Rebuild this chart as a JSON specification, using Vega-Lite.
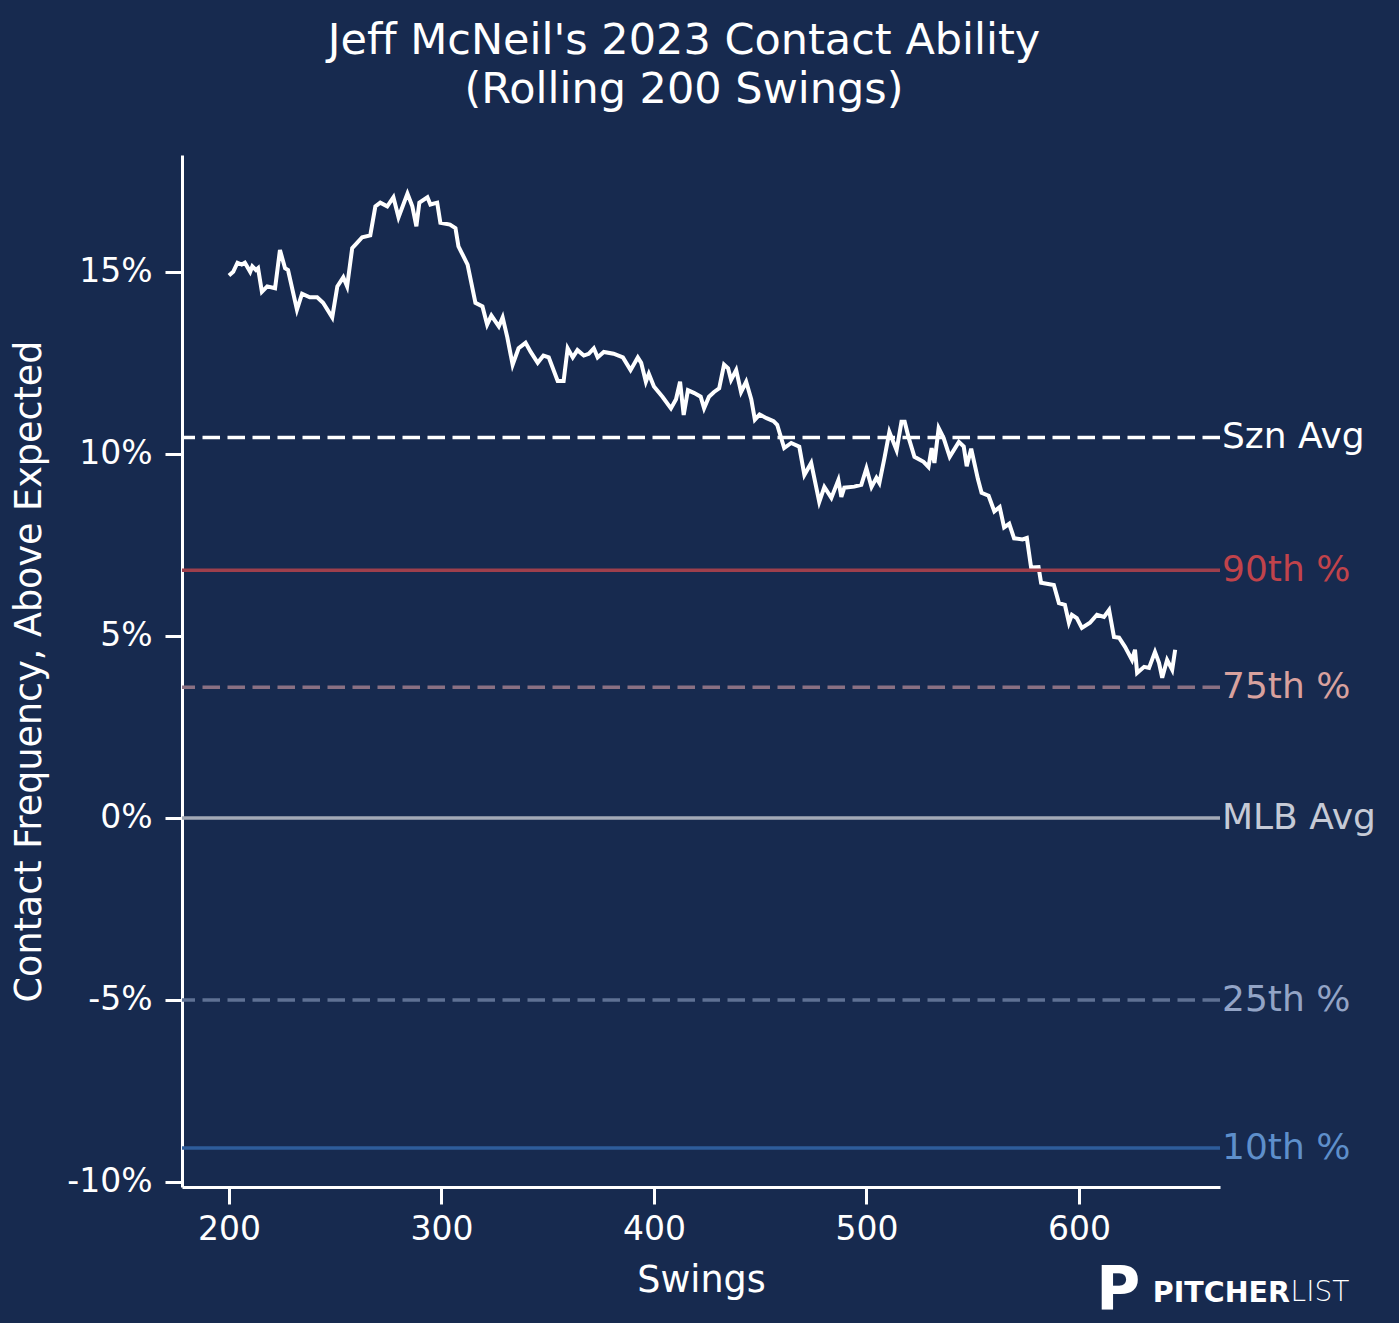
{
  "$schema": "https://vega.github.io/schema/vega-lite/v6.json",
  "description": "Jeff McNeil rolling 200-swing contact ability, 2023",
  "width": 1038,
  "height": 1032,
  "autosize": "none",
  "padding": {"left": 182, "top": 155, "right": 179, "bottom": 136},
  "background": "#172a4f",
  "config": {
    "view": {"stroke": null},
    "font": "DejaVu Sans"
  },
  "title": {
    "text": ["Jeff McNeil's 2023 Contact Ability", "(Rolling 200 Swings)"],
    "font": "DejaVu Sans",
    "fontSize": 43,
    "fontWeight": "normal",
    "color": "#ffffff",
    "lineHeight": 49,
    "anchor": "middle",
    "dx": -17,
    "offset": 43
  },
  "datasets": {
    "rolling": [
      {"s": 200, "v": 14.9}, {"s": 202, "v": 15.0}, {"s": 204, "v": 15.25}, {"s": 206, "v": 15.2},
      {"s": 207.5, "v": 15.25}, {"s": 210, "v": 15.0}, {"s": 211, "v": 15.15}, {"s": 212.7, "v": 15.05},
      {"s": 213.7, "v": 15.1}, {"s": 215.5, "v": 14.45}, {"s": 218, "v": 14.6}, {"s": 221.7, "v": 14.55},
      {"s": 224, "v": 15.6}, {"s": 226.4, "v": 15.1}, {"s": 227.8, "v": 15.05}, {"s": 232, "v": 13.96},
      {"s": 234.4, "v": 14.4}, {"s": 238, "v": 14.3}, {"s": 241.5, "v": 14.3}, {"s": 244.3, "v": 14.15},
      {"s": 248.6, "v": 13.75}, {"s": 251, "v": 14.6}, {"s": 253.8, "v": 14.85}, {"s": 255.6, "v": 14.6},
      {"s": 258, "v": 15.65}, {"s": 260.4, "v": 15.8}, {"s": 262.7, "v": 15.95}, {"s": 266.5, "v": 16.0},
      {"s": 268.9, "v": 16.8}, {"s": 271.2, "v": 16.9}, {"s": 274.5, "v": 16.8}, {"s": 277.4, "v": 17.05},
      {"s": 279.8, "v": 16.5}, {"s": 284, "v": 17.15}, {"s": 286.3, "v": 16.8}, {"s": 288.2, "v": 16.25},
      {"s": 289.6, "v": 16.9}, {"s": 293.4, "v": 17.05}, {"s": 294.8, "v": 16.85}, {"s": 298, "v": 16.9},
      {"s": 299.5, "v": 16.35}, {"s": 304, "v": 16.3}, {"s": 306.6, "v": 16.2}, {"s": 308, "v": 15.7},
      {"s": 312.3, "v": 15.2}, {"s": 316, "v": 14.15}, {"s": 319.3, "v": 14.05}, {"s": 321.5, "v": 13.55},
      {"s": 323.5, "v": 13.8}, {"s": 327, "v": 13.5}, {"s": 328.8, "v": 13.75}, {"s": 331, "v": 13.2},
      {"s": 333.5, "v": 12.45}, {"s": 336.3, "v": 12.9}, {"s": 339.6, "v": 13.05}, {"s": 342, "v": 12.8},
      {"s": 345.3, "v": 12.5}, {"s": 348, "v": 12.7}, {"s": 350.5, "v": 12.65}, {"s": 354.7, "v": 12.0},
      {"s": 357.5, "v": 12.0}, {"s": 359.4, "v": 12.9}, {"s": 361.8, "v": 12.65}, {"s": 364, "v": 12.85},
      {"s": 367, "v": 12.7}, {"s": 369.3, "v": 12.75}, {"s": 371.7, "v": 12.9}, {"s": 373.5, "v": 12.65},
      {"s": 376.4, "v": 12.8}, {"s": 381, "v": 12.75}, {"s": 385.4, "v": 12.65}, {"s": 389, "v": 12.3},
      {"s": 392.4, "v": 12.65}, {"s": 394, "v": 12.5}, {"s": 396.2, "v": 11.98}, {"s": 397.6, "v": 12.2},
      {"s": 400, "v": 11.85}, {"s": 404, "v": 11.57}, {"s": 408, "v": 11.25}, {"s": 410.4, "v": 11.5},
      {"s": 412.3, "v": 11.98}, {"s": 414, "v": 11.07}, {"s": 416, "v": 11.75}, {"s": 419, "v": 11.67},
      {"s": 422, "v": 11.57}, {"s": 423.6, "v": 11.25}, {"s": 425.9, "v": 11.57}, {"s": 428.3, "v": 11.7},
      {"s": 430.7, "v": 11.8}, {"s": 433, "v": 12.45}, {"s": 434.9, "v": 12.35}, {"s": 436.3, "v": 12.03},
      {"s": 438.7, "v": 12.3}, {"s": 441, "v": 11.7}, {"s": 443.4, "v": 11.98}, {"s": 445.8, "v": 11.5},
      {"s": 447.5, "v": 10.94}, {"s": 449.7, "v": 11.08}, {"s": 453, "v": 10.98}, {"s": 456.3, "v": 10.9},
      {"s": 458, "v": 10.8}, {"s": 461.3, "v": 10.16}, {"s": 464.6, "v": 10.3}, {"s": 468.4, "v": 10.2},
      {"s": 470.8, "v": 9.42}, {"s": 474, "v": 9.75}, {"s": 477.8, "v": 8.68}, {"s": 480.2, "v": 9.09},
      {"s": 483.5, "v": 8.79}, {"s": 486.8, "v": 9.28}, {"s": 488.2, "v": 8.82}, {"s": 489.6, "v": 9.07},
      {"s": 494.3, "v": 9.1}, {"s": 497.6, "v": 9.15}, {"s": 500, "v": 9.6}, {"s": 502.4, "v": 9.09},
      {"s": 504.7, "v": 9.34}, {"s": 506.1, "v": 9.2}, {"s": 508.5, "v": 9.89}, {"s": 510.8, "v": 10.6},
      {"s": 514.2, "v": 10.1}, {"s": 516.5, "v": 10.88}, {"s": 518, "v": 10.88}, {"s": 519.9, "v": 10.44},
      {"s": 522.6, "v": 9.92}, {"s": 526.9, "v": 9.78}, {"s": 529.2, "v": 9.64}, {"s": 530.7, "v": 10.16},
      {"s": 532, "v": 9.75}, {"s": 534, "v": 10.71}, {"s": 536.3, "v": 10.44}, {"s": 539.2, "v": 9.92},
      {"s": 543.5, "v": 10.33}, {"s": 545.8, "v": 10.2}, {"s": 547.2, "v": 9.66}, {"s": 549.3, "v": 10.14},
      {"s": 552.5, "v": 9.3}, {"s": 554.2, "v": 8.93}, {"s": 557.5, "v": 8.85}, {"s": 560.2, "v": 8.42},
      {"s": 562.7, "v": 8.54}, {"s": 564.8, "v": 7.98}, {"s": 567.2, "v": 8.08}, {"s": 569.5, "v": 7.68},
      {"s": 573.5, "v": 7.65}, {"s": 575.5, "v": 7.69}, {"s": 577.5, "v": 6.88}, {"s": 581, "v": 6.89},
      {"s": 582.2, "v": 6.46}, {"s": 588.2, "v": 6.4}, {"s": 590.6, "v": 5.9}, {"s": 593.4, "v": 5.85},
      {"s": 595.3, "v": 5.36}, {"s": 596.7, "v": 5.58}, {"s": 599, "v": 5.49}, {"s": 601.4, "v": 5.22},
      {"s": 605.2, "v": 5.36}, {"s": 608.5, "v": 5.58}, {"s": 611.8, "v": 5.52}, {"s": 614.2, "v": 5.71},
      {"s": 616.5, "v": 4.97}, {"s": 618.9, "v": 4.95}, {"s": 621.7, "v": 4.7}, {"s": 625, "v": 4.34},
      {"s": 626.4, "v": 4.62}, {"s": 627.4, "v": 3.98}, {"s": 630.7, "v": 4.15}, {"s": 633, "v": 4.12},
      {"s": 635.8, "v": 4.56}, {"s": 637.7, "v": 4.26}, {"s": 639.2, "v": 3.85}, {"s": 641.5, "v": 4.34},
      {"s": 643.9, "v": 4.07}, {"s": 645.3, "v": 4.62}
    ],
    "refs": [
      {"name": "Szn Avg", "value": 10.45},
      {"name": "90th %", "value": 6.8},
      {"name": "75th %", "value": 3.59},
      {"name": "MLB Avg", "value": 0},
      {"name": "25th %", "value": -5.0},
      {"name": "10th %", "value": -9.07}
    ]
  },
  "layer": [
    {
      "data": {"name": "rolling"},
      "mark": {"type": "line", "color": "#ffffff", "strokeWidth": 4, "strokeJoin": "miter"},
      "encoding": {
        "x": {
          "field": "s",
          "type": "quantitative",
          "title": "Swings",
          "scale": {"domain": [177.9, 666.4], "nice": false, "zero": false},
          "axis": {
            "values": [200, 300, 400, 500, 600],
            "grid": false,
            "domainColor": "#ffffff",
            "domainWidth": 3,
            "tickColor": "#ffffff",
            "tickWidth": 3,
            "tickSize": 17,
            "labelColor": "#ffffff",
            "labelFont": "DejaVu Sans",
            "labelFontSize": 33,
            "labelPadding": 9,
            "titleColor": "#ffffff",
            "titleFont": "DejaVu Sans",
            "titleFontSize": 36.5,
            "titleFontWeight": "normal",
            "titlePadding": 16
          }
        },
        "y": {
          "field": "v",
          "type": "quantitative",
          "title": "Contact Frequency, Above Expected",
          "scale": {"domain": [-10.14, 18.21], "nice": false, "zero": false},
          "axis": {
            "values": [-10, -5, 0, 5, 10, 15],
            "labelExpr": "datum.value + '%'",
            "grid": false,
            "domainColor": "#ffffff",
            "domainWidth": 3,
            "tickColor": "#ffffff",
            "tickWidth": 3,
            "tickSize": 17,
            "labelColor": "#ffffff",
            "labelFont": "DejaVu Sans",
            "labelFontSize": 33,
            "labelPadding": 13,
            "titleColor": "#ffffff",
            "titleFont": "DejaVu Sans",
            "titleFontSize": 36.5,
            "titleFontWeight": "normal",
            "titlePadding": 18
          }
        }
      }
    },
    {
      "data": {"name": "refs"},
      "mark": {"type": "rule", "strokeWidth": 3.5},
      "encoding": {
        "y": {"field": "value", "type": "quantitative"},
        "color": {
          "field": "name",
          "type": "nominal",
          "legend": null,
          "scale": {
            "domain": ["Szn Avg", "90th %", "75th %", "MLB Avg", "25th %", "10th %"],
            "range": ["#ffffff", "#9e3f4c", "#8a7083", "#a3a9b6", "#5f7194", "#2e5c9a"]
          }
        },
        "strokeDash": {
          "field": "name",
          "type": "nominal",
          "legend": null,
          "scale": {
            "domain": ["Szn Avg", "90th %", "75th %", "MLB Avg", "25th %", "10th %"],
            "range": [[17.5, 7.5], [1, 0], [17.5, 7.5], [1, 0], [17.5, 7.5], [1, 0]]
          }
        }
      }
    },
    {
      "data": {"name": "refs"},
      "mark": {"type": "text", "align": "left", "baseline": "middle", "dx": 2, "fontSize": 36, "font": "DejaVu Sans"},
      "encoding": {
        "x": {"datum": 666.4, "type": "quantitative"},
        "y": {"field": "value", "type": "quantitative"},
        "text": {"field": "name"},
        "color": {
          "field": "name",
          "type": "nominal",
          "legend": null,
          "scale": {
            "domain": ["Szn Avg", "90th %", "75th %", "MLB Avg", "25th %", "10th %"],
            "range": ["#ffffff", "#c1434b", "#d8a19e", "#c6cad6", "#93a4c6", "#5e8fcb"]
          }
        }
      }
    },
    {
      "data": {"values": [{"brand": "P"}]},
      "mark": {"type": "text", "align": "center", "baseline": "middle", "fontSize": 60, "fontWeight": "bold", "font": "DejaVu Sans", "color": "#ffffff"},
      "encoding": {
        "x": {"datum": 618.5, "type": "quantitative"},
        "y": {"datum": -13.0, "type": "quantitative"},
        "text": {"field": "brand"}
      }
    },
    {
      "data": {"values": [{"brand": "PITCHER"}]},
      "mark": {"type": "text", "align": "left", "baseline": "middle", "fontSize": 28.5, "fontWeight": "bold", "font": "DejaVu Sans", "color": "#ffffff"},
      "encoding": {
        "x": {"datum": 634.8, "type": "quantitative"},
        "y": {"datum": -13.05, "type": "quantitative"},
        "text": {"field": "brand"}
      }
    },
    {
      "data": {"values": [{"brand": "LIST"}]},
      "mark": {"type": "text", "align": "left", "baseline": "middle", "fontSize": 28, "fontWeight": 200, "font": "DejaVu Sans", "color": "#ffffff"},
      "encoding": {
        "x": {"datum": 699.6, "type": "quantitative"},
        "y": {"datum": -13.05, "type": "quantitative"},
        "text": {"field": "brand"}
      }
    }
  ],
  "resolve": {"scale": {"color": "independent"}}
}
